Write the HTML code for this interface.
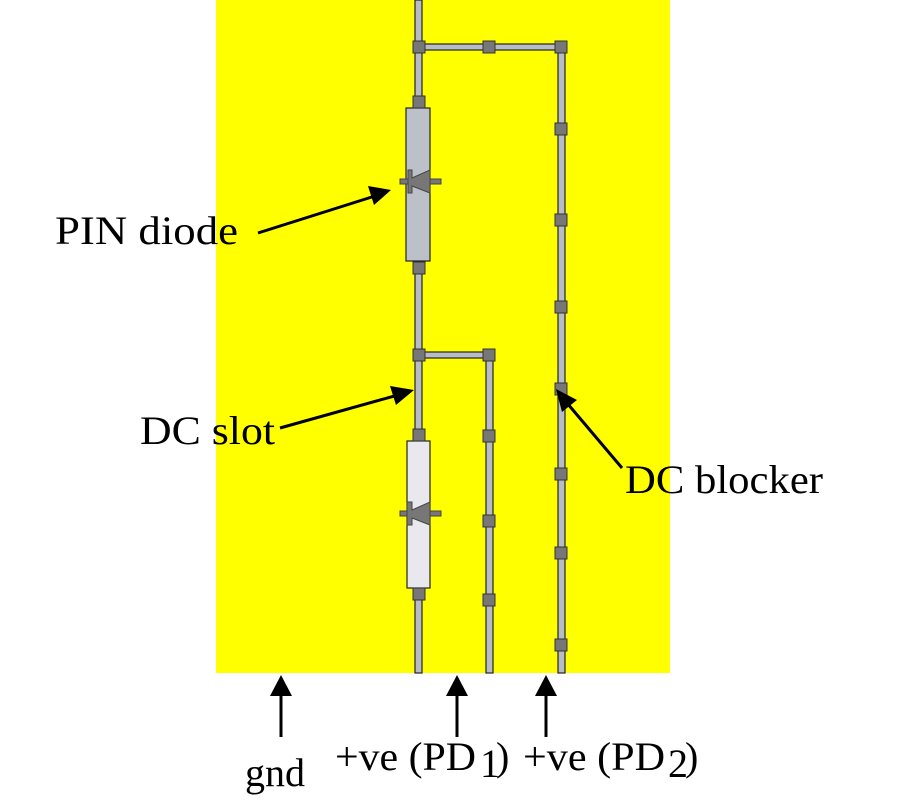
<!DOCTYPE html>
<html><head><style>
body{margin:0;width:900px;height:800px;background:#fff;overflow:hidden}
svg{display:block}
text{font-family:"Liberation Serif",serif;font-size:40px;fill:#000}
</style></head><body>
<svg width="900" height="800" viewBox="0 0 900 800">
<rect x="216" y="0" width="454" height="673" fill="#ffff00"/>
<g stroke="#222" stroke-width="1.2">
<rect x="415" y="0" width="7" height="673" fill="#b8bcc4"/>
<rect x="558" y="47" width="7" height="626" fill="#b8bcc4"/>
<rect x="486" y="355" width="7" height="318" fill="#b8bcc4"/>
<rect x="419" y="44" width="142" height="6" fill="#b8bcc4"/>
<rect x="419" y="352" width="70" height="6" fill="#b8bcc4"/>
<rect x="406" y="108" width="24" height="153" fill="#bcc0c8"/>
<rect x="407" y="441" width="23" height="147" fill="#e8e8ee"/>
</g>
<g fill="#777" stroke="#333" stroke-width="1">
<rect x="413" y="41" width="12" height="12"/><rect x="483" y="41" width="12" height="12"/><rect x="555" y="41" width="12" height="12"/>
<rect x="413" y="96" width="12" height="12"/><rect x="413" y="262" width="12" height="12"/>
<rect x="413" y="349" width="12" height="12"/><rect x="483" y="349" width="12" height="12"/>
<rect x="413" y="429" width="12" height="12"/><rect x="413" y="588" width="12" height="12"/>
<rect x="483" y="430" width="12" height="12"/><rect x="483" y="515" width="12" height="12"/><rect x="483" y="594" width="12" height="12"/>
<rect x="555" y="123" width="12" height="12"/><rect x="555" y="214" width="12" height="12"/><rect x="555" y="301" width="12" height="12"/><rect x="555" y="383" width="12" height="12"/><rect x="555" y="468" width="12" height="12"/><rect x="555" y="547" width="12" height="12"/><rect x="555" y="639" width="12" height="12"/>
</g>
<g fill="#777" stroke="#444" stroke-width="1">
<rect x="400" y="179" width="41" height="5"/>
<polygon points="408,170 412,170 412,178 430,170 430,193 412,186 412,193 408,193"/>
<rect x="400" y="511" width="41" height="5"/>
<polygon points="407,502 412,502 412,510 430,502 430,525 412,518 412,525 407,525"/>
</g>
<g stroke="#000" stroke-width="3" fill="#000">
<line x1="258" y1="233" x2="375" y2="196"/><polygon points="391,190 368,186 374,205" stroke="none"/>
<line x1="280" y1="428" x2="398" y2="395"/><polygon points="414,390 390,386 396,405" stroke="none"/>
<line x1="622" y1="468" x2="567" y2="403"/><polygon points="556,389 562,412 577,400" stroke="none"/>
<line x1="281" y1="737" x2="281" y2="690"/><polygon points="281,675 270,696 292,696" stroke="none"/>
<line x1="457" y1="737" x2="457" y2="690"/><polygon points="457,675 446,696 468,696" stroke="none"/>
<line x1="546" y1="737" x2="546" y2="690"/><polygon points="546,675 535,696 557,696" stroke="none"/>
</g>
<text x="55" y="244" textLength="183" lengthAdjust="spacingAndGlyphs">PIN diode</text>
<text x="140" y="444" textLength="135" lengthAdjust="spacingAndGlyphs">DC slot</text>
<text x="625" y="493" textLength="198" lengthAdjust="spacingAndGlyphs">DC blocker</text>
<text x="245" y="786" textLength="60" lengthAdjust="spacingAndGlyphs">gnd</text>
<text x="335" y="770" textLength="141" lengthAdjust="spacingAndGlyphs">+ve (PD</text><text x="480" y="777" font-size="26">1</text><text x="496" y="770">)</text>
<text x="523" y="770" textLength="142" lengthAdjust="spacingAndGlyphs">+ve (PD</text><text x="668" y="777" font-size="26">2</text><text x="685" y="770">)</text>
</svg>
</body></html>
